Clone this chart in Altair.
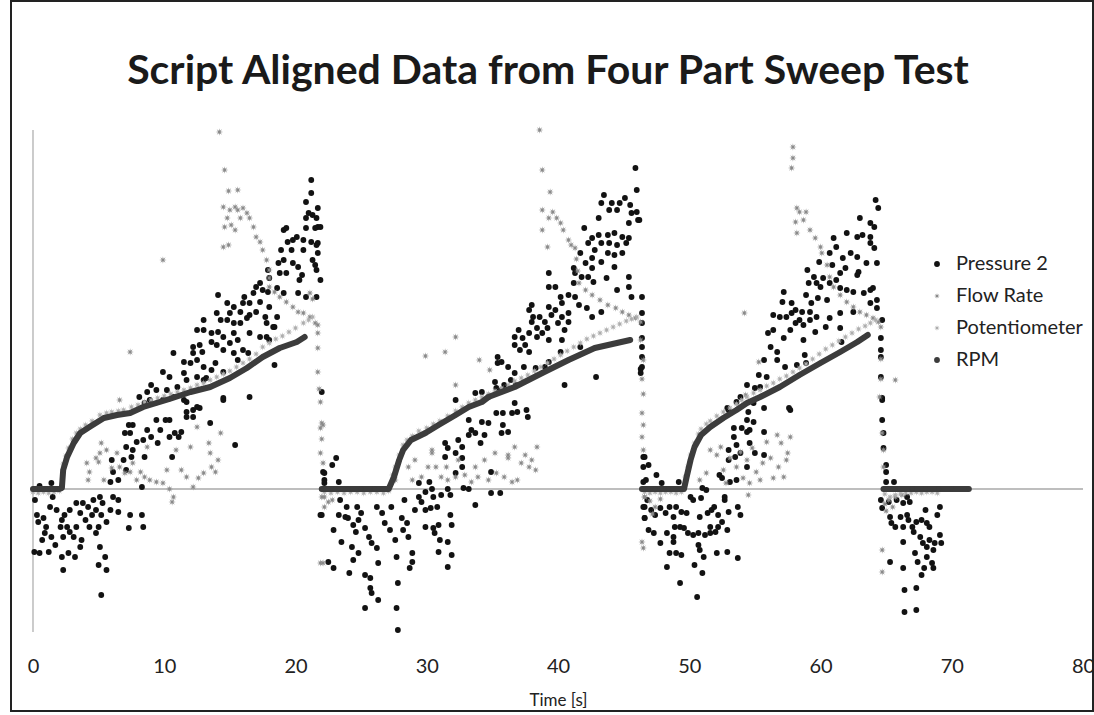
import altair as alt
import pandas as pd

# ---------------- data (time [s], value in chart units) -------------
chart_title = "Script Aligned Data from Four Part Sweep Test"
series_names = ["Pressure 2", "Flow Rate", "Potentiometer", "RPM"]
series_colors = ["#121212", "#8a8a8a", "#adadad", "#3c3c3c"]
x_ticks = [0, 10, 20, 30, 40, 50, 60, 70, 80]

pressure_c1 = [
    (0.15,-11),(0.3,-26),(0.8,-29),(0.4,-33),(1.0,-38),(0.9,-44),(0.7,-51),(1.4,-48),(0.1,-63),(0.5,-64),
    (1.2,-63),(1.7,-56),(1.5,-8),(1.3,-18),(1.8,-21),(2.2,-31),(2.4,-26),(2.1,-38),(2.6,-38),(2.3,-48),
    (2.8,-43),(3.1,-48),(2.2,-68),(2.7,-64),(3.2,-68),(2.3,-81),(2.8,-21),(3.3,-14),(3.6,-24),(3.8,-14),
    (4.0,-31),(4.2,-18),(4.5,-26),(4.6,-11),(4.8,-21),(5.1,-8),(5.2,-26),(5.3,-14),(5.6,-33),(5.9,-21),
    (6.5,-23),(6.5,-11),(5.0,-38),(4.3,-38),(4.8,-44),(3.7,-51),(5.1,-58),(5.5,-68),(5.0,-76),(5.6,-81),
    (5.2,-106),(7.4,-26),(8.3,-26),(7.3,-39),(8.4,-38),(6.1,-8),(3.3,-38),(3.6,-58),(1.4,6),(0.5,3),
    (5.9,7),(6.5,9),(6.1,17),(7.1,19),(6.9,29),(6.0,29),(7.1,42),(7.6,39),(7.9,47),(7.5,32),
    (8.5,32),(8.4,49),(8.7,59),(9.0,52),(9.5,46),(9.4,69),(10.1,69),(10.4,69),(9.7,59),(10.4,52),
    (10.8,56),(11.1,52),(11.3,57),(10.6,32),(8.3,2),(7.3,64),(7.4,56),(7.0,56),(11.7,77),(12.2,79),
    (12.7,81),(11.7,72),(12.2,72),(13.5,66),(15.4,44),(14.5,89),(11.7,87),(7.6,64),
    (21.2,309),(21.2,296),(20.8,287),(21.0,276),(21.3,274),(21.6,271),(21.7,281),(20.8,271),(21.7,262),(21.5,261),
    (20.8,261),(19.3,261),(19.1,259),(20.1,252),(19.8,249),(19.4,247),(20.6,249),(21.2,247),(21.6,244),(20.6,239),
    (18.9,239),(19.7,239),(21.7,236),(21.3,229),(19.1,229),(18.7,226),(19.8,226),(20.2,222),(21.5,224),(21.6,219),
    (17.9,219),(18.8,216),(19.3,216),(20.5,214),(20.3,209),(21.9,209),(18.0,211),(17.3,206),(17.0,202),(17.5,199),
    (16.8,196),(17.9,197),(18.6,201),(19.1,196),(20.2,196),(20.8,192),(16.1,192),(16.0,186),(16.5,186),(17.3,187),
    (14.1,194),(14.8,186),(15.3,182),(15.0,176),(15.8,177),(16.5,174),(17.0,177),(17.7,172),(18.0,182),(18.6,172),
    (18.4,162),(17.8,166),(14.0,176),(14.3,169),(14.8,169),(15.3,166),(15.8,166),(16.3,171),(13.0,169),(12.5,159),
    (13.0,159),(13.6,156),(14.1,157),(14.5,152),(15.3,156),(15.6,149),(16.5,156),(17.3,152),(17.8,152),(18.0,149),
    (13.6,147),(14.0,144),(15.0,146),(14.5,139),(16.0,139),(16.4,136),(15.3,136),(15.6,129),(12.2,142),(12.7,144),
    (12.9,137),(12.2,136),(12.0,126),(11.5,127),(10.7,136),(12.5,129),(13.0,122),(13.9,126),(13.6,119),(14.5,117),
    (9.9,117),(10.4,112),(11.5,116),(11.7,109),(12.5,112),(13.0,109),(13.2,111),(11.0,102),(10.2,99),(9.0,104),
    (9.4,99),(8.7,97),(8.1,92),(8.5,86),(8.9,89),(9.9,89),(10.7,92),(11.5,89),(12.5,82),(14.5,91),
    (16.5,92),(18.4,124),(18.3,162),(21.9,262),(21.6,192),(22.0,97),(22.1,17),(22.2,9),(21.9,-26),(21.7,246),
]

pressure_c2 = [
    (23.1,31),(22.8,24),(22.2,16),(23.3,7),(22.2,6),(22.0,-26),(22.9,-41),(23.5,-53),(22.5,-73),(22.9,-79),
    (23.4,-11),(23.9,-18),(23.3,-26),(23.8,-28),(24.0,-29),(24.4,-36),(24.8,-31),(25.0,-24),(24.7,-18),(25.3,-39),
    (24.6,-43),(24.3,-58),(24.8,-64),(24.4,-71),(24.1,-84),(25.3,-86),(25.7,-89),(25.7,-99),(25.8,-104),(26.3,-111),
    (25.3,-119),(25.6,-48),(25.8,-54),(26.2,-59),(26.3,-74),(26.2,-18),(26.6,-24),(26.8,-34),(27.3,-18),(27.2,-41),
    (27.6,-51),(27.7,-68),(27.8,-94),(27.7,-119),(27.8,-141),(28.1,-29),(28.3,-11),(28.5,-34),(28.2,-41),(28.6,-48),
    (29.1,-21),(28.9,-64),(28.9,-73),(28.7,-79),(29.4,-8),(29.9,-21),(30.3,-19),(30.8,-18),(30.5,-8),(29.9,-38),
    (30.5,-39),(30.9,-36),(30.6,-44),(31.0,-51),(30.9,-63),(31.6,-53),(31.9,-66),(31.6,-78),(31.8,-26),(31.9,-36),
    (31.1,-6),(31.8,-6),(33.7,-16),(29.6,-13),
    (29.4,6),(30.2,7),(30.4,0),(29.9,-3),(31.6,0),(32.2,16),(32.7,22),(32.8,1),(33.2,0),(34.9,-4),
    (35.6,-4),(34.9,17),(31.4,32),(32.2,36),(32.7,31),(31.4,46),(32.4,49),(31.6,41),(32.7,42),(33.2,54),
    (33.4,59),(33.7,56),(34.1,46),(34.4,54),(34.7,66),(34.2,67),(33.2,69),(35.3,76),(35.8,76),(36.5,76),
    (36.9,77),(37.6,79),(37.7,72),(35.7,56),(36.2,57),(35.8,64),(36.7,86),(32.2,89),
    (45.9,321),(43.5,294),(46.0,299),(43.3,286),(44.1,286),(44.7,286),(45.1,291),(45.5,284),(43.9,279),(44.5,279),
    (45.6,276),(46.0,277),(43.1,271),(45.4,266),(46.1,269),(42.0,261),(43.1,254),(43.8,254),(44.3,256),(44.9,252),
    (45.4,251),(42.6,251),(42.3,246),(43.3,246),(43.9,246),(44.5,244),(45.2,246),(42.8,239),(43.8,236),(44.3,234),
    (44.9,236),(41.7,236),(42.6,231),(43.3,227),(42.1,226),(41.2,221),(42.6,221),(44.3,222),(39.3,216),(41.3,216),
    (41.8,212),(42.3,212),(43.7,211),(45.4,212),(39.8,202),(39.3,202),(41.2,206),(42.7,207),(44.5,199),(45.4,202),
    (45.6,192),(40.8,194),(40.2,192),(41.3,192),(38.0,184),(40.3,186),(41.6,184),(42.2,181),(43.3,177),(37.8,179),
    (39.3,182),(39.8,179),(40.8,176),(38.1,172),(38.6,172),(39.5,174),(40.3,172),(42.6,172),(38.0,167),(39.0,167),
    (40.0,166),(40.8,167),(38.4,161),(39.2,161),(40.5,159),(37.0,159),(36.7,152),(37.3,151),(37.8,156),(38.8,156),
    (38.4,152),(39.3,149),(40.3,149),(36.7,144),(37.5,144),(37.1,139),(37.8,137),(38.3,121),(39.0,122),(39.3,127),
    (40.2,137),(41.7,142),(35.4,132),(35.4,126),(35.7,127),(36.2,122),(36.7,116),(37.4,122),(36.4,109),(35.9,104),
    (35.2,107),(35.3,101),(35.7,99),(36.8,104),(40.5,104),(42.9,112),(33.7,96),(34.2,97),(34.7,92),
    (46.3,120),(46.3,116),(46.4,142),(46.4,132),(46.5,32),(46.5,22),(46.7,9),(46.6,-18),(46.6,-29),(46.2,269),
    (46.4,192),(46.4,176),(46.4,166),(46.4,151),(46.4,122),
]

pressure_c3 = [
    (46.6,32),(46.9,24),(47.5,14),(47.9,6),(46.5,7),(49.2,7),
    (46.5,-18),(46.8,-11),(47.1,-21),(46.6,-29),(47.4,-26),(47.8,-19),(48.2,-24),(48.5,-18),(48.8,-28),(49.0,-18),
    (49.4,-23),(49.8,-24),(50.1,-8),(50.3,-11),(50.9,-9),(50.8,-28),(47.3,-44),(47.8,-54),(48.3,-44),(48.8,-48),
    (48.9,-38),(49.3,-38),(49.6,-39),(48.8,-53),(48.5,-64),(49.0,-64),(49.4,-66),(48.3,-78),(49.3,-94),(49.9,-44),
    (50.3,-46),(50.7,-44),(51.2,-46),(51.6,-44),(52.0,-43),(50.7,-56),(50.8,-61),(50.4,-76),(51.1,-68),(51.0,-84),
    (50.6,-108),(51.4,-24),(51.7,-21),(51.9,-18),(52.2,-26),(52.5,-33),(52.2,-38),(52.9,-41),(53.0,-23),(52.7,-11),
    (52.7,-8),(52.1,-64),(52.9,-63),(53.7,-18),(53.9,-26),(53.7,-69),(51.6,-38),(46.9,-41),
    (51.0,1),(51.3,-1),(52.5,11),(53.1,7),(53.6,9),(53.0,29),(53.5,32),(53.0,39),(53.6,44),(53.9,36),
    (54.4,22),(55.0,36),(54.6,46),(55.7,34),(55.7,57),(54.4,57),(54.0,61),(54.6,59),(54.9,67),(54.4,69),
    (53.4,52),(53.4,61),(54.5,77),(55.7,81),(57.7,79),(53.0,79),(53.6,87),(54.9,86),(52.3,14),
    (64.2,289),(64.4,281),(63.0,271),(63.8,266),(64.1,262),(62.0,256),(62.8,252),(63.2,254),(63.8,252),(63.8,246),
    (64.1,241),(61.0,251),(61.2,242),(60.7,236),(62.3,236),(62.8,232),(61.7,231),(63.5,226),(64.3,226),(59.9,227),
    (60.9,224),(61.9,221),(62.9,217),(61.5,216),(62.8,214),(59.0,219),(59.5,212),(60.2,211),(60.7,206),(61.2,209),
    (61.5,201),(62.0,199),(62.5,197),(63.3,196),(63.8,199),(64.0,201),(64.3,189),(63.8,186),(59.1,206),(59.7,206),
    (60.0,202),(57.2,197),(58.9,194),(59.8,191),(59.3,186),(60.5,189),(61.5,176),(62.5,177),(64.3,181),(57.1,187),
    (57.8,186),(58.1,179),(58.6,177),(59.2,177),(59.7,172),(56.4,174),(56.9,172),(57.4,172),(57.8,176),(58.4,169),
    (59.2,169),(60.7,171),(56.4,159),(57.2,151),(58.1,166),(57.7,159),(58.7,164),(59.6,157),(60.4,162),(61.5,161),
    (58.7,149),(61.6,147),(56.0,156),(56.2,142),(56.7,137),(56.7,129),(57.3,122),(58.2,124),(58.8,134),(58.9,126),
    (55.7,129),(55.3,114),(55.9,112),(54.4,104),(55.0,101),(55.4,102),(53.9,92),(52.9,81),(57.6,81),(64.7,91),
    (64.6,139),(64.6,132),(64.6,112),(64.6,151),(64.7,169),
    (64.7,89),(64.7,69),(64.8,56),(64.8,41),(65.0,24),(65.0,17),(65.0,7),(65.6,7),
]

pressure_c4 = [
    (64.6,-11),(64.7,-19),(65.2,-13),(65.8,-11),(66.3,-14),(66.6,-8),(66.8,-13),(65.3,-28),(65.4,-34),(65.7,-38),
    (66.1,-28),(66.3,-38),(66.7,-31),(67.0,-38),(67.3,-33),(67.7,-31),(68.0,-21),(68.1,-34),(68.3,-38),(69.1,-18),
    (68.9,-26),(66.6,-26),(67.1,-43),(67.6,-48),(67.8,-54),(68.3,-51),(68.7,-54),(69.1,-46),(69.2,-54),(68.1,-58),
    (68.6,-61),(66.3,-53),(67.2,-64),(68.1,-68),(68.5,-74),(68.6,-79),(67.4,-73),(65.3,-73),(66.3,-79),(67.9,-79),
    (67.7,-86),(67.3,-99),(66.4,-101),(66.4,-123),(67.3,-121),
]

flow_c1 = [
    (14.2,357),(14.6,319),(14.9,298),(15.6,299),(9.9,229),(7.4,137),(6.6,89),
    (14.5,282),(15.0,279),(15.4,282),(15.6,279),(16.0,281),(16.3,276),(15.8,271),(16.5,271),(14.8,271),(15.1,264),
    (15.4,259),(14.6,262),(16.8,262),(17.0,252),(17.3,247),(17.5,239),(17.8,229),(14.5,242),(14.9,244),(18.0,219),
    (18.0,211),(18.0,202),(18.4,197),(18.8,192),(19.3,187),(19.8,182),(20.2,177),(20.6,176),(21.1,172),(21.5,166),
    (21.7,164),(21.1,196),(21.3,190),
    (21.7,156),(21.7,141),(21.7,117),(21.9,87),(22.1,64),(21.9,36),(22.1,26),(22.0,-8),(22.1,-74),(21.8,100),(22.0,50),
    (4.1,26),(4.3,17),(4.8,31),(5.1,36),(5.2,46),(5.6,39),(6.0,21),(6.4,36),(6.6,22),(7.0,16),
    (7.4,17),(7.6,26),(7.9,9),(8.2,17),(8.5,12),(8.9,9),(9.4,7),(9.9,6),(10.2,19),(10.4,0),
    (10.7,-8),(10.6,-13),(10.9,39),(11.3,19),(11.7,12),(12.0,42),(12.2,2),(12.5,62),(12.6,11),(13.0,16),
    (13.4,46),(13.5,36),(13.6,22),(13.9,17),(14.1,29),(14.3,56),(8.7,42),(5.0,27),(4.2,9),(5.4,9),
]

flow_c2 = [
    (38.6,359),(38.8,319),(39.4,297),(32.2,152),(29.9,133),(31.4,137),(34.0,129),(34.8,119),(32.2,104),
    (38.8,279),(39.3,271),(39.6,277),(39.9,271),(40.2,266),(38.8,259),(39.2,242),(40.4,259),(40.8,249),(41.0,244),
    (41.3,241),(41.4,230),(41.5,218),(41.6,206),(42.1,199),(42.6,194),(43.2,189),(43.8,184),(44.4,181),(44.9,177),
    (45.4,174),(45.9,171),(46.3,167),
    (46.3,149),(46.5,129),(46.4,76),(46.5,64),(46.4,52),(46.5,39),(46.6,-8),(46.4,-53),(46.5,-59),(46.4,110),(46.5,95),
    (22.2,-8),(22.5,-13),(22.8,-11),(22.2,-18),(21.9,-74),(21.9,61),(22.0,66),
    (27.6,9),(28.6,22),(28.9,9),(29.1,29),(29.6,12),(30.1,22),(30.4,39),(30.7,22),(31.1,12),(31.5,22),
    (31.6,9),(32.2,12),(32.4,29),(32.9,14),(33.4,7),(33.7,22),(33.9,12),(34.4,29),(34.7,9),(35.2,36),
    (35.3,16),(35.9,12),(36.2,31),(36.5,7),(36.7,42),(36.9,9),(37.2,26),(37.5,34),(37.8,22),(38.0,29),
    (38.3,19),(38.4,42),(29.9,56),(30.4,36),(36.2,34),
]

flow_c3 = [
    (57.9,342),(57.9,331),(57.8,321),(54.2,176),(65.7,109),(55.3,127),(54.3,94),
    (58.2,281),(58.4,277),(58.9,277),(58.1,267),(58.2,256),(58.7,269),(59.2,259),(59.6,251),(60.0,242),(60.1,236),
    (60.5,224),(60.7,212),(61.0,202),(61.5,194),(62.0,187),(62.5,182),(63.0,177),(63.5,174),(64.0,171),(64.4,167),
    (64.6,162),
    (64.5,92),(64.7,56),(64.8,39),(64.8,22),(64.7,-61),(64.7,-83),(64.6,130),(64.6,110),
    (46.6,-8),(47.0,-12),(47.4,-18),(47.8,-10),(47.2,-25),
    (50.8,9),(51.3,16),(51.6,39),(52.1,34),(52.4,42),(52.6,19),(52.8,6),(53.1,31),(53.6,22),(53.9,37),
    (54.1,11),(54.4,29),(54.6,6),(54.8,41),(55.1,17),(55.4,9),(55.6,26),(55.9,47),(56.2,31),(56.4,11),
    (56.7,54),(56.8,22),(57.0,46),(57.2,12),(57.4,29),(57.7,52),(57.5,36),(54.5,-6),
    (65.2,-11),(65.5,-18),(65.7,-8),(66.2,-6),(64.9,-15),(65.0,-22),
]

pot_c1 = [
    (0.0,-3),(0.4,-4),(0.8,-3),(1.2,-4),(1.6,-3),(2.0,-2),
    (2.3,25),(2.5,33),(2.7,41),(3.0,50),(3.3,56),(3.6,60),(4.0,64),(4.5,68),(5.1,74),(5.6,76),
    (6.0,77),(6.5,78),(6.9,79),(7.5,82),(8.0,84),(8.5,87),(9.0,89),(9.5,91),(10.0,93),(10.5,95),
    (11.0,97),(11.5,99),(12.0,101),(12.5,104),(13.0,106),(13.5,109),(14.0,112),(14.5,115),(15.0,118),(15.5,122),
    (16.0,126),(16.5,130),(17.0,135),(17.5,142),(18.0,146),(18.5,150),(19.0,153),(19.5,157),(20.0,161),(20.6,166),
    (21.0,169),(21.3,172),
]

pot_c2 = [
    (22.2,-3),(22.7,-4),(23.2,-3),(23.7,-4),(24.2,-3),(24.7,-3),(25.2,-4),(25.7,-3),(26.2,-3),(26.7,-4),(27.1,-2),
    (27.4,14),(27.6,22),(27.9,34),(28.2,44),(28.5,49),(28.9,53),(29.4,58),(30.0,61),(30.5,65),(31.0,68),
    (31.6,73),(32.2,78),(32.7,82),(33.2,86),(33.7,89),(34.2,92),(34.7,95),(35.2,98),(35.7,101),(36.2,104),
    (36.7,108),(37.2,111),(37.7,114),(38.2,118),(38.7,122),(39.2,126),(39.7,130),(40.2,134),(40.7,138),(41.2,142),
    (41.7,146),(42.2,150),(42.7,153),(43.2,156),(43.7,159),(44.2,162),(44.7,165),(45.2,168),(45.6,170),(46.0,172),
]

pot_c3 = [
    (46.6,-3),(47.0,-4),(47.4,-3),(47.8,-4),(48.2,-3),(48.6,-3),(49.0,-4),(49.4,-3),
    (49.7,12),(49.9,22),(50.1,34),(50.4,46),(50.7,55),(50.9,60),(51.3,65),(51.6,68),(52.1,73),(52.6,77),
    (53.1,81),(53.6,85),(54.0,89),(54.4,92),(54.9,96),(55.4,99),(55.9,103),(56.4,106),(56.9,110),(57.4,113),
    (57.9,117),(58.4,121),(58.9,125),(59.4,130),(59.9,135),(60.4,140),(60.9,144),(61.4,148),(61.9,152),(62.4,156),
    (62.9,160),(63.4,163),(63.8,166),(64.2,169),
    (64.9,-5),(65.3,-8),(65.7,-6),(66.1,-5),(66.5,-4),(66.9,-4),(67.3,-3),(67.7,-4),(68.1,-3),(68.5,-3),(68.9,-4),
]

rpm_c1 = [(0.0,0),(0.5,0),(1.0,0),(1.5,0),(2.0,0),(2.2,1),(2.3,19),(2.6,32),(3.1,46),(3.6,56),(4.3,62),(5.4,71),
          (6.4,74),(7.4,76),(8.4,82),(9.4,86),(10.4,90),(12.0,97),(13.5,102),(15.0,111),(16.3,121),(17.5,132),
          (18.8,141),(20.1,147),(20.7,152)]
rpm_c2 = [(22.0,0),(23.0,0),(24.0,0),(25.0,0),(26.0,0),(27.1,0),(27.5,12),(27.9,29),(28.2,39),(28.8,49),(29.9,56),
          (30.9,64),(32.2,74),(33.2,82),(34.2,87),(34.7,92),(36.7,102),(38.8,116),(40.8,129),(42.8,141),(45.5,149)]
rpm_c3 = [(46.4,0),(47.4,0),(48.4,0),(49.6,0),(49.8,12),(50.1,29),(50.4,42),(50.9,54),(51.6,62),(52.6,71),(53.6,79),
          (54.4,86),(55.4,92),(56.9,102),(58.4,114),(60.0,126),(61.5,137),(62.8,147),(63.6,154)]
rpm_c4 = [(64.8,0),(66.0,0),(67.0,0),(68.0,0),(69.0,0),(70.0,0),(71.3,0)]


def frame(name, *parts):
    rows = []
    for seg, part in enumerate(parts):
        for t, v in part:
            rows.append({"t": t, "v": v, "series": name, "seg": seg})
    return pd.DataFrame(rows)


pressure_df = frame("Pressure 2", pressure_c1, pressure_c2, pressure_c3, pressure_c4)
flow_df = frame("Flow Rate", flow_c1, flow_c2, flow_c3)
pot_df = frame("Potentiometer", pot_c1, pot_c2, pot_c3)
rpm_df = frame("RPM", rpm_c1, rpm_c2, rpm_c3, rpm_c4)

star_path = ("M1,0L0.32,0.13L0.71,0.71L0.13,0.32L0,1L-0.13,0.32L-0.71,0.71L-0.32,0.13L-1,0"
             "L-0.32,-0.13L-0.71,-0.71L-0.13,-0.32L0,-1L0.13,-0.32L0.71,-0.71L0.32,-0.13Z")
series_shapes = ["circle", star_path, star_path, "circle"]

legend = alt.Legend(title=None, orient="none", legendX=894, legendY=124, labelFont="Lato", labelFontSize=20,
                    labelColor="#222", symbolSize=34, rowPadding=12, labelOffset=9, padding=0,
                    symbolStrokeWidth=0)

X = alt.X("t:Q", scale=alt.Scale(domain=[0, 80], nice=False, zero=False),
          axis=alt.Axis(values=x_ticks, title="Time [s]", grid=False, domain=False, ticks=False, tickSize=0,
                        labelPadding=24, labelFont="Lato", labelFontSize=20, labelColor="#222",
                        titleFont="Lato", titleFontSize=17, titleFontWeight="normal", titleColor="#222",
                        titlePadding=16, labelFlush=False))
Y = alt.Y("v:Q", scale=alt.Scale(domain=[-143, 359], nice=False, zero=False), axis=None)
C = alt.Color("series:N", scale=alt.Scale(domain=series_names, range=series_colors), legend=legend)
S = alt.Shape("series:N", scale=alt.Scale(domain=series_names, range=series_shapes), legend=legend)

zero_line = alt.Chart(pd.DataFrame({"v": [0]})).mark_rule(color="#a9a9a9", strokeWidth=1.3).encode(y=Y)
y_axis_line = alt.Chart(pd.DataFrame({"t": [0]})).mark_rule(color="#b0b0b0", strokeWidth=1.3).encode(x=X)
border = alt.Chart(pd.DataFrame({"a": [0]})).mark_rect(fillOpacity=0, stroke="#222", strokeWidth=2).encode(
    x=alt.value(-22), x2=alt.value(1060), y=alt.value(-129), y2=alt.value(581))
title_text = alt.Chart(pd.DataFrame({"label": [chart_title]})).mark_text(
    font="Lato", fontSize=41, fontWeight="bold", color="#1a1a1a", align="center", baseline="alphabetic"
).encode(text="label:N", x=alt.value(515), y=alt.value(-46))

pressure = alt.Chart(pressure_df).mark_point(filled=True, size=34, opacity=1).encode(x=X, y=Y, color=C, shape=S)
flow = alt.Chart(flow_df).mark_point(filled=True, size=55, opacity=1).encode(x=X, y=Y, color=C, shape=S)
pot = alt.Chart(pot_df).mark_point(filled=True, size=55, opacity=1).encode(x=X, y=Y, color=C, shape=S)
rpm_line = alt.Chart(rpm_df).mark_line(color="#3c3c3c", strokeWidth=6, strokeCap="round",
                                       strokeJoin="round").encode(x=X, y=Y, detail="seg:N")
rpm_pts = alt.Chart(rpm_df).mark_point(filled=True, size=24, opacity=1).encode(x=X, y=Y, color=C, shape=S)

chart = alt.layer(border, title_text, zero_line, y_axis_line, pressure, flow, pot, rpm_line, rpm_pts).properties(
    width=1050, height=502,
    autosize=alt.AutoSizeParams(type="none"),
    padding={"left": 33, "top": 130, "right": 11, "bottom": 83},
    view=alt.ViewBackground(stroke="transparent", strokeWidth=0),
).configure_view(stroke="transparent", strokeWidth=0).configure(background="white")

chart.save("out.html", embed_options={"renderer": "svg", "actions": False})
